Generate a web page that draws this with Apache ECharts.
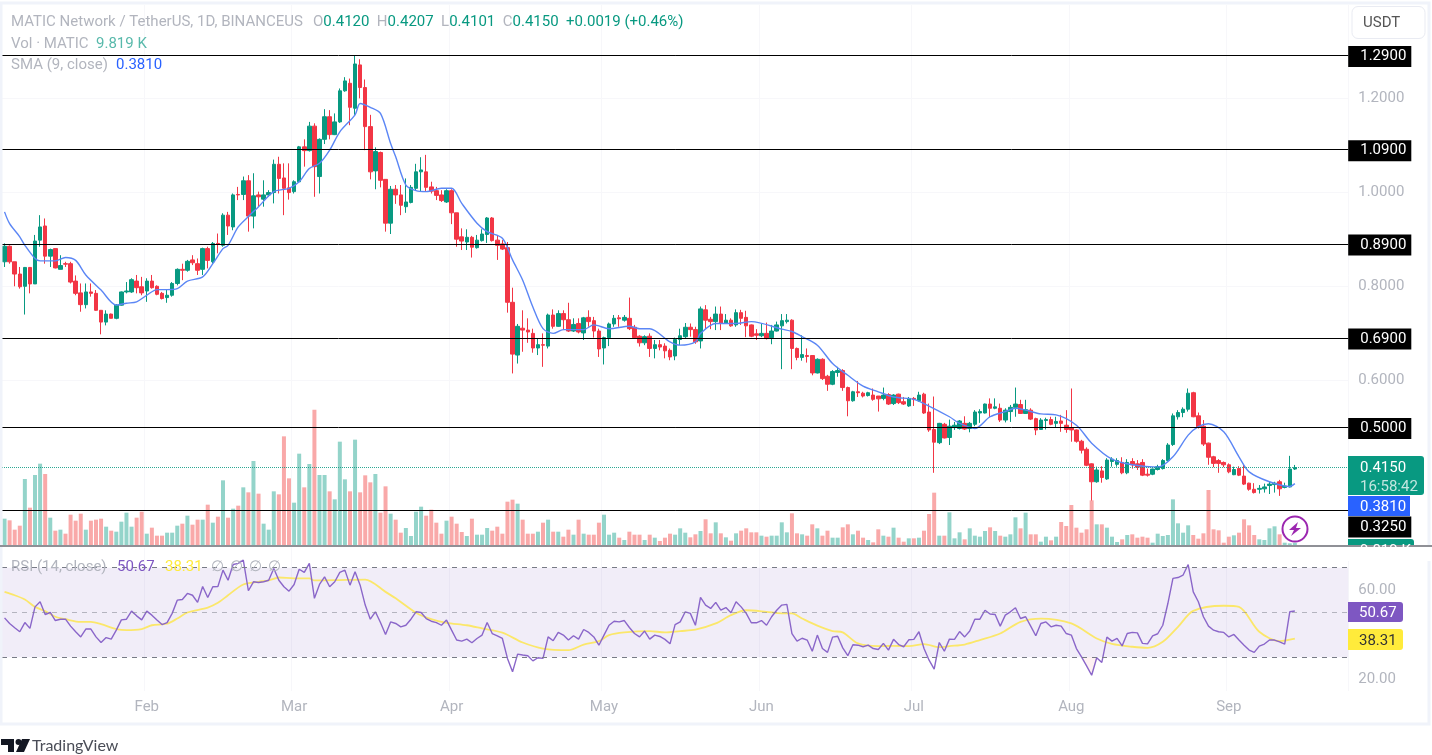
<!DOCTYPE html>
<html>
<head>
<meta charset="utf-8">
<title>MATIC / USDT</title>
<style>
  html, body { margin: 0; padding: 0; background: #fff; }
  #chart { width: 1432px; height: 755px; }
</style>
</head>
<body>
<div id="chart"></div>
<script src="https://cdn.jsdelivr.net/npm/echarts@6/dist/echarts.min.js"></script>
<script>
// daily candles (3 Jan .. 14 Sep)
const opens = [
  .852,.885,.852,.826,.800,.840,.805,.898,.928,.864,
  .880,.836,.848,.848,.811,.786,.761,.788,.785,.749,
  .724,.741,.732,.760,.788,.788,.811,.799,.790,.811,
  .800,.785,.776,.781,.806,.836,.834,.856,.848,.836,
  .880,.852,.891,.887,.951,.926,.995,.995,1.024,.949,
  .994,.985,.994,.999,1.059,1.030,1.009,1.001,1.022,1.096,
  1.088,1.140,1.033,1.112,1.160,1.122,1.149,1.215,1.231,1.178,
  1.270,1.222,1.139,1.045,1.084,1.027,.934,1.006,.994,.969,
  .978,1.008,1.043,1.043,1.011,1.003,.994,.979,1.003,.956,
  .905,.894,.904,.882,.897,.910,.945,.898,.890,.882,
  .766,.654,.711,.707,.700,.669,.676,.673,.739,.715,
  .742,.729,.705,.721,.701,.734,.727,.705,.669,.691,
  .720,.733,.728,.732,.713,.694,.680,.694,.668,.676,
  .673,.664,.652,.687,.693,.713,.708,.684,.750,.730,
  .725,.741,.722,.728,.718,.744,.734,.718,.699,.695,
  .700,.691,.705,.716,.725,.728,.668,.649,.653,.653,
  .616,.645,.609,.592,.617,.621,.585,.557,.576,.573,
  .568,.569,.567,.562,.570,.551,.571,.555,.546,.562,
  .557,.571,.533,.496,.468,.507,.479,.500,.498,.509,
  .498,.507,.531,.531,.550,.541,.541,.516,.534,.543,
  .549,.530,.537,.519,.496,.515,.517,.509,.514,.505,
  .500,.495,.471,.454,.423,.385,.408,.391,.428,.422,
  .426,.404,.428,.423,.426,.401,.401,.411,.413,.430,
  .464,.523,.532,.539,.574,.525,.503,.467,.438,.430,
  .426,.421,.400,.413,.397,.382,.369,.369,.370,.377,
  .379,.385,.373,.374,.4120
]
const closes = [
  .885,.852,.826,.799,.840,.805,.896,.926,.864,.878,
  .839,.844,.847,.809,.785,.761,.788,.785,.749,.724,
  .741,.732,.760,.788,.790,.814,.797,.786,.811,.797,
  .783,.774,.781,.806,.836,.834,.853,.850,.834,.880,
  .855,.891,.889,.951,.928,.994,.994,1.024,.949,.992,
  .990,.994,.999,1.059,1.029,1.008,.999,1.022,1.096,1.088,
  1.140,1.054,1.112,1.160,1.122,1.149,1.215,1.236,1.180,1.272,
  1.222,1.139,1.043,1.086,1.025,.934,1.006,.994,.972,.979,
  1.010,1.043,1.047,1.010,1.002,.993,.982,1.003,.956,.900,
  .896,.904,.883,.898,.911,.945,.897,.887,.879,.766,
  .656,.715,.707,.703,.669,.676,.675,.739,.715,.742,
  .729,.705,.719,.703,.733,.725,.705,.667,.691,.720,
  .732,.731,.734,.710,.691,.680,.693,.668,.676,.671,
  .663,.650,.687,.695,.713,.708,.682,.752,.728,.725,
  .741,.721,.728,.716,.744,.732,.716,.694,.696,.700,
  .689,.705,.718,.727,.728,.668,.649,.655,.651,.616,
  .645,.604,.592,.619,.621,.585,.557,.576,.574,.567,
  .574,.560,.561,.569,.550,.569,.553,.550,.562,.560,
  .569,.531,.495,.469,.509,.478,.503,.505,.514,.497,
  .509,.533,.534,.550,.541,.544,.516,.537,.543,.550,
  .530,.538,.518,.495,.516,.517,.507,.513,.509,.496,
  .495,.471,.452,.420,.385,.410,.394,.431,.433,.430,
  .404,.426,.421,.416,.399,.399,.412,.417,.430,.463,
  .525,.532,.539,.573,.523,.502,.465,.437,.424,.424,
  .421,.406,.411,.399,.380,.369,.362,.371,.374,.380,
  .382,.370,.376,.412,.4150
]
const lows = [
  .841,.848,.800,.795,.740,.785,.805,.884,.848,.841,
  .838,.836,.841,.806,.781,.746,.753,.778,.748,.698,
  .717,.732,.730,.759,.785,.786,.785,.781,.767,.795,
  .781,.772,.765,.778,.802,.813,.831,.845,.824,.824,
  .838,.848,.870,.884,.909,.919,.983,.983,.916,.923,
  .969,.969,.990,.976,.997,.951,.984,.997,1.020,1.054,
  1.086,.990,.997,1.102,1.112,1.121,1.147,1.213,1.142,1.164,
  1.199,1.089,1.027,1.006,1.010,.916,.911,.975,.951,.956,
  .976,1.004,1.001,1.001,.997,.983,.979,.977,.932,.884,
  .877,.877,.861,.880,.895,.892,.895,.856,.877,.744,
  .615,.636,.661,.680,.659,.654,.629,.668,.710,.714,
  .707,.703,.703,.700,.686,.714,.691,.650,.634,.673,
  .714,.714,.725,.707,.689,.672,.675,.650,.647,.664,
  .647,.643,.643,.675,.689,.693,.678,.668,.709,.709,
  .707,.707,.721,.714,.714,.718,.692,.692,.686,.692,
  .687,.677,.704,.624,.721,.624,.643,.642,.638,.611,
  .615,.601,.578,.590,.608,.578,.524,.555,.565,.564,
  .566,.557,.534,.558,.548,.548,.550,.548,.544,.546,
  .555,.529,.491,.404,.465,.477,.463,.495,.496,.495,
  .490,.503,.510,.530,.522,.539,.512,.511,.512,.523,
  .529,.529,.516,.484,.495,.496,.505,.500,.491,.489,
  .470,.468,.445,.418,.345,.383,.383,.389,.417,.417,
  .401,.401,.413,.410,.397,.396,.399,.409,.411,.428,
  .461,.517,.522,.534,.522,.498,.461,.421,.416,.404,
  .416,.403,.399,.397,.378,.366,.360,.360,.362,.359,
  .362,.355,.371,.373,.4101
]
const highs = [
  .891,.887,.852,.841,.841,.841,.909,.951,.944,.880,
  .880,.866,.852,.852,.823,.806,.806,.806,.792,.749,
  .749,.742,.762,.789,.809,.817,.824,.820,.817,.824,
  .802,.788,.792,.809,.838,.848,.856,.866,.859,.882,
  .884,.894,.912,.955,.958,.997,1.011,1.033,1.036,1.040,
  1.001,1.025,1.004,1.069,1.075,1.061,1.061,1.025,1.098,1.112,
  1.149,1.146,1.114,1.176,1.174,1.167,1.220,1.244,1.241,1.289,
  1.282,1.239,1.164,1.095,1.086,1.027,1.013,1.015,1.015,1.029,
  1.015,1.060,1.074,1.079,1.022,1.011,1.004,1.006,1.006,.956,
  .923,.921,.907,.909,.921,.947,.947,.909,.898,.894,
  .797,.720,.749,.732,.710,.689,.700,.742,.751,.749,
  .749,.765,.732,.732,.735,.749,.735,.710,.693,.723,
  .739,.739,.739,.776,.718,.696,.696,.700,.686,.686,
  .679,.668,.691,.710,.722,.721,.714,.757,.760,.735,
  .757,.757,.741,.732,.751,.750,.748,.719,.709,.721,
  .723,.718,.725,.741,.741,.730,.670,.696,.668,.654,
  .647,.647,.612,.622,.629,.624,.587,.578,.599,.576,
  .576,.583,.567,.585,.573,.571,.572,.565,.565,.565,
  .576,.574,.551,.566,.510,.510,.517,.512,.516,.524,
  .512,.537,.539,.551,.562,.562,.551,.541,.548,.585,
  .559,.559,.541,.521,.520,.521,.523,.523,.527,.537,
  .583,.496,.474,.458,.424,.417,.418,.435,.437,.435,
  .437,.433,.435,.431,.433,.413,.413,.421,.433,.467,
  .530,.537,.543,.583,.576,.532,.516,.468,.440,.433,
  .428,.424,.417,.418,.421,.383,.382,.378,.381,.385,
  .385,.389,.383,.440,.4207
]
// volume in thousands
const volumes = [
  82,77,49,61,201,115,213,247,216,85,46,49,37,94,76,97,49,76,79,82,
  58,46,43,73,100,58,85,103,37,55,31,31,40,40,61,67,91,64,79,79,
  124,70,88,197,85,112,121,176,161,255,157,67,49,164,155,329,203,130,277,176,
  246,409,213,213,164,140,313,200,164,319,161,212,191,216,100,179,97,79,40,
  54,30,103,118,91,109,70,37,76,88,67,42,30,82,34,34,54,46,58,37,
  133,139,127,79,37,37,43,70,79,43,43,28,49,34,79,37,34,34,70,94,
  34,40,25,18,43,34,34,18,34,25,15,25,37,34,
  53,40,26,35,45,80,38,71,38,26,16,38,46,53,41,41,31,28,31,31,
  71,41,98,38,35,31,65,53,31,46,25,25,56,65,35,46,25,18,11,50,
  31,28,55,25,13,23,23,25,46,96,160,31,31,101,23,41,20,53,31,28,
  45,56,45,31,28,35,86,
  53,100,35,35,13,28,17,28,72,60,123,55,40,50,137,65,65,55,28,12,
  20,33,35,25,28,25,10,37,30,33,140,68,40,62,33,22,38,168,50,47,
  10,28,32,40,80,62,33,20,18,53,59,35,10,8,9.819
]
const rsi = [
  47.6,45.1,43.2,41.4,45.5,42.9,52.5,54.8,49.1,50.0,
  46.4,47.0,47.0,43.9,41.4,39.1,42.6,42.6,39.1,36.6,
  38.8,38.1,42.1,46.7,47.0,50.6,48.5,46.7,50.6,48.8,
  46.6,44.6,45.5,49.6,55.5,55.8,58.5,57.7,54.5,61.6,
  56.7,61.5,61.6,68.9,64.4,71.4,71.9,73.4,59.7,63.7,
  63.4,63.7,64.4,69.6,64.4,61.5,59.5,62.5,69.3,67.9,
  71.9,56.3,62.5,65.9,61.5,63.7,67.9,68.9,62.2,68.2,
  62.2,53.3,47.0,50.3,45.5,40.2,45.8,45.1,43.6,44.3,
  47.0,50.3,50.0,47.3,46.1,45.5,44.3,46.6,42.1,37.7,
  37.2,38.1,36.5,38.4,
  39.9,45.5,40.6,39.6,38.4,29.5,23.5,31.4,31.0,30.7,
  28.4,29.8,29.5,39.1,37.4,41.1,39.9,37.7,39.6,38.1,
  42.4,41.1,39.1,35.4,39.9,44.3,46.1,45.8,46.4,43.3,
  40.6,39.1,41.7,38.1,39.9,39.3,38.0,36.0,44.6,45.8,
  50.3,49.6,44.3,56.7,53.3,51.8,54.5,51.0,52.2,49.9,
  54.8,52.5,49.6,45.4,45.4,46.4,44.3,48.1,51.0,53.3,
  53.6,40.6,37.2,38.5,37.7,32.7,39.9,33.9,32.2,39.0,
  39.4,34.2,30.7,35.6,35.4,34.7,35.4,33.9,33.5,36.2,
  33.2,38.0,35.7,34.7,37.8,38.0,41.4,33.9,28.7,24.7,
  36.6,32.7,38.1,38.0,41.5,39.1,41.7,47.0,47.0,
  51.0,49.3,49.1,43.9,48.8,50.3,52.1,47.3,48.1,43.9,
  39.6,45.1,45.8,43.6,44.3,43.9,40.6,39.9,33.9,30.2,
  26.2,22.0,29.8,27.7,39.0,37.2,38.4,35.1,40.6,41.1,
  40.9,36.2,36.0,39.6,40.5,44.3,54.0,65.2,65.6,66.7,
  71.4,59.2,54.8,48.1,43.9,42.1,41.4,41.1,39.1,40.2,
  37.7,35.4,33.2,32.2,35.0,35.9,37.7,37.7,36.9,35.9,
  50.3,50.67
]
// the two smooth lines, read at the candles where they bend
const smaDays = [
  0,1,3,4,6,7,10,12,14,16,19,22,24,26,28,30,32,34,36,39,41,43,44,46,48,50,53,56,58,60,62,64,66,69,
  70,72,74,76,77,79,81,83,86,88,90,93,95,98,100,102,104,106,108,110,114,116,119,123,125,127,131,133,136,
  137,140,144,147,153,155,157,160,163,166,169,172,175,179,181,186,188,191,194,197,199,
  201,204,207,211,214,218,222,227,230,233,235,237,240,243,245,249,253,254
]
const smaValues = [
  .958,.933,.905,.887,.859,.854,.854,.861,.855,.824,.792,.760,.764,.767,.781,.793,.793,.795,.811,.820,.848,.880,.887,.926,.948,.969,1.001,1.008,1.022,1.050,1.061,1.089,1.128,1.164,
  1.188,1.180,1.167,1.103,1.075,1.015,1.003,1.001,1.008,1.008,.976,.934,.916,.902,.856,.813,.756,.710,.700,.708,.708,.718,.710,.715,.710,.710,.682,.675,.682,
  .700,.721,.721,.725,.709,.704,.693,.675,.636,.611,.588,.576,.565,.560,.551,.523,.509,.498,.523,.534,.541,
  .537,.529,.527,.505,.467,.433,.421,.416,.438,.484,.502,.508,.491,.438,.406,.385,.375,.381
]
const rsiMaDays = [
  0,2,4,6,8,10,12,15,17,19,22,24,27,29,32,34,36,40,42,44,47,50,52,54,57,60,61,65,71,75,77,81,84,87,91,
  94,98,102,106,111,114,117,119,122,127,130,133,136,140,143,146,150,153,155,157,160,163,165,168,172,175,178,181,184,186,189,192,
  196,200,204,210,215,218,222,225,228,231,234,240,243,247,251,254
]
const rsiMaValues = [
  59.2,57.7,55.8,52.5,50.6,48.1,47.0,45.8,45.8,44.8,42.6,42.1,42.6,44.3,45.0,47.3,50.0,52.2,54.3,57.7,62.5,63.7,64.3,65.6,65.2,65.2,64.3,64.4,64.7,59.2,56.3,49.9,47.0,45.4,44.3,
  42.9,41.0,36.6,33.9,33.2,35.7,37.2,39.9,41.1,41.7,41.1,41.7,42.3,45.1,48.8,51.0,50.3,49.6,49.6,47.3,44.1,41.7,41.1,36.2,35.0,35.1,35.0,35.9,34.5,35.0,35.7,37.7,
  40.6,45.8,47.3,45.1,38.4,36.0,34.7,34.2,36.9,43.6,50.7,53.0,52.5,41.4,37.2,38.31
]
// the dip below the lower band in August
const oversoldDays = [212, 213, 214, 215]
const oversoldValues = [30, 26.2, 22.0, 29.8]
const levels = [1.29, 1.09, 0.89, 0.69, 0.5, 0.325]
const lastPrice = 0.415
const priceTicks = [1.2, 1.0, 0.8, 0.6]
const rsiTicks = [20, 60]
const rsiBands = [70, 50, 30]
const monthLabels = ['Feb', 'Mar', 'Apr', 'May', 'Jun', 'Jul', 'Aug', 'Sep']
const monthDays = [28, 57, 88, 118, 149, 179, 210, 241]

const UP = '#089981'
const DOWN = '#f23645'
const GREY = '#b2b5be'
const FONT = 'Roboto, sans-serif'
const SIZE = 15

// ten empty days stay free on the right side of the chart
const dayCount = 265
const categories = []
for (let i = 0; i < dayCount; i++) {
  const d = new Date(2023, 0, 3 + i)
  categories.push((d.getMonth() + 1) + '/' + d.getDate())
}
const candles = opens.map((o, i) => [o, closes[i], lows[i], highs[i]])
const volumeData = volumes.map((v, i) => ({
  value: v,
  itemStyle: { color: closes[i] >= opens[i] ? '#94d4ca' : '#f9a9a9' }
}))

function label (x, y, text, fill, size, extra) {
  return {
    type: 'text',
    z: 100,
    silent: true,
    style: Object.assign({
      x: x,
      y: y + 2.5,
      text: text,
      fill: fill,
      font: (size || SIZE) + 'px ' + FONT,
      textVerticalAlign: 'middle'
    }, extra)
  }
}
function box (x, y, w, h, fill, r) {
  return {
    type: 'rect',
    z: 99,
    silent: true,
    shape: { x: x, y: y, width: w, height: h, r: r || 0 },
    style: { fill: fill }
  }
}
function poly (points, fill, z) {
  return { type: 'polygon', z: z || 100, silent: true, shape: { points: points }, style: { fill: fill } }
}

const legendRich = {
  g: { fill: GREY, font: SIZE + 'px ' + FONT },
  v: { fill: UP, font: SIZE + 'px ' + FONT }
}
const graphics = [
  // frame around the chart
  { type: 'rect', z: 90, silent: true, shape: { x: 1, y: 3, width: 1428, height: 721 }, style: { fill: 'none', stroke: '#f0f3fa', lineWidth: 3 } },

  // legends
  label(11, 19.5, 'MATIC Network / TetherUS, 1D, BINANCEUS', GREY),
  label(313, 19.5, '{g|O}{v|0.4120}  {g|H}{v|0.4207}  {g|L}{v|0.4101}  {g|C}{v|0.4150}  {v|+0.0019 (+0.46%)}', UP, SIZE, { rich: legendRich }),
  label(11, 41.5, 'Vol · MATIC', GREY),
  label(96, 41.5, '9.819 K', '#58b9ab'),
  label(11, 62.5, 'SMA (9, close)', GREY),
  label(116, 62.5, '0.3810', '#2962ff'),
  label(11, 565, 'RSI (14, close)', GREY),
  label(117, 565, '50.67', '#7e57c2'),
  label(165, 565, '38.31', '#ffeb3b'),
  label(211, 565, '∅', GREY),
  label(230, 565, '∅', GREY),
  label(249, 565, '∅', GREY),
  label(268, 565, '∅', GREY),

  // currency button
  { type: 'rect', z: 100, silent: true, shape: { x: 1352, y: 6.5, width: 73, height: 32, r: 6 }, style: { fill: '#fff', stroke: '#e9ebf2', lineWidth: 1 } },
  label(1363, 20.5, 'USDT', '#555'),

  // right scale boxes
  box(1348, 456, 76, 39, UP, [0, 3, 3, 0]),
  label(1360, 465.5, '0.4150', '#fff'),
  label(1360, 484.5, '16:58:42', '#c3e6e0'),
  box(1348, 496, 62, 20, '#2962ff'),
  label(1360, 504.5, '0.3810', '#fff'),
  box(1348, 539, 66, 20, UP, [0, 3, 3, 0]),
  label(1360, 549, '9.819 K', '#fff'),
  box(1348, 547, 84, 14, '#fff'),
  box(1348, 602, 55, 20, '#7e57c2', [0, 3, 3, 0]),
  label(1359, 610.5, '50.67', '#fff'),
  box(1348, 629, 55, 21, '#ffeb3b', [0, 3, 3, 0]),
  label(1359, 638.5, '38.31', '#333'),

  // pane divider
  { type: 'rect', z: 99, silent: true, shape: { x: 0, y: 545, width: 1432, height: 2 }, style: { fill: '#8f9096' } },

  // the round purple badge
  { type: 'circle', z: 100, silent: true, shape: { cx: 1295, cy: 529, r: 12.5 }, style: { fill: 'rgba(255,255,255,0.7)', stroke: '#9c27b0', lineWidth: 2 } },
  poly([[1298, 522], [1289, 530], [1294, 530], [1291, 536], [1301, 528], [1296, 528]], '#9c27b0'),

  // brand mark
  poly([[1, 739], [14, 739], [14, 752], [8, 752], [8, 745], [1, 745]], '#131722'),
  { type: 'circle', z: 100, silent: true, shape: { cx: 18.5, cy: 742, r: 3 }, style: { fill: '#131722' } },
  poly([[22, 739], [30, 739], [24, 752], [16, 752]], '#131722'),
  label(32, 743.5, 'TradingView', '#4a4d57', 16, { font: '16px Lato, sans-serif' })
]

const chartInstance = echarts.init(document.getElementById('chart'), null, { renderer: 'canvas' })
const levelItems = levels.map((v, i) => ({
  yAxis: v,
  lineStyle: { color: '#000', width: 1, type: 'solid' },
  label: {
    show: true,
    position: 'end',
    distance: 0,
    formatter: v.toFixed(4),
    color: '#fff',
    backgroundColor: '#000',
    padding: [4, 5, 2, 12],
    fontFamily: FONT,
    fontSize: SIZE,
    // the last box is pushed down by the boxes above it
    offset: i === levels.length - 1 ? [0, 17] : [0, 1]
  }
}))
const priceLine = {
  yAxis: lastPrice,
  lineStyle: { color: UP, width: 1, type: 'dotted', opacity: 0.85 },
  label: { show: false }
}
const splitX = {
  show: true,
  interval: (index) => monthDays.indexOf(index) >= 0,
  lineStyle: { color: '#f7f7fa', width: 1 }
}
const gridLeft = 2
const gridWidth = 1346.2

const option = {
  animation: false,
  backgroundColor: '#fff',
  graphic: graphics,
  grid: [
    { left: gridLeft, width: gridWidth, top: 5, height: 541 },
    { left: gridLeft, width: gridWidth, top: 400, height: 146 },
    { left: gridLeft, width: gridWidth, top: 547.5, height: 143.4 }
  ],
  xAxis: [0, 1, 2].map((g) => ({
    type: 'category',
    gridIndex: g,
    data: categories,
    boundaryGap: true,
    axisLine: { show: false },
    axisTick: { show: false },
    splitLine: g === 1 ? { show: false } : splitX,
    axisLabel: g === 2 ? {
      show: true,
      margin: 8,
      padding: [1, 0, 0, 0],
      interval: (index) => monthDays.indexOf(index) >= 0,
      formatter: (value, index) => monthLabels[monthDays.indexOf(index)],
      color: GREY,
      fontFamily: FONT,
      fontSize: SIZE
    } : { show: false }
  })),
  yAxis: [
    {
      type: 'value',
      gridIndex: 0,
      position: 'right',
      min: 0.2486,
      max: 1.3972,
      axisLine: { show: false },
      axisTick: { show: false, customValues: priceTicks },
      splitLine: { show: true, lineStyle: { color: '#f7f7fa' } },
      axisLabel: {
        customValues: priceTicks,
        formatter: (v) => v.toFixed(4),
        color: GREY,
        margin: 10,
        padding: [7, 0, 0, 0],
        fontFamily: FONT,
        fontSize: SIZE
      }
    },
    {
      type: 'value',
      gridIndex: 1,
      min: 0,
      max: 438,
      show: false
    },
    {
      type: 'value',
      gridIndex: 2,
      position: 'right',
      min: 15,
      max: 79,
      axisLine: { show: false },
      axisTick: { show: false, customValues: rsiTicks },
      splitLine: { show: false },
      axisLabel: {
        customValues: rsiTicks,
        formatter: (v) => v.toFixed(2),
        color: GREY,
        margin: 10,
        padding: [7, 0, 0, 0],
        fontFamily: FONT,
        fontSize: SIZE
      }
    }
  ],
  series: [
    {
      name: 'Vol',
      type: 'bar',
      xAxisIndex: 1,
      yAxisIndex: 1,
      z: 1,
      barWidth: 4,
      data: volumeData
    },
    {
      // horizontal levels stay behind the candles
      name: 'Levels',
      type: 'line',
      xAxisIndex: 0,
      yAxisIndex: 0,
      z: 2,
      data: [],
      markLine: {
        silent: true,
        symbol: 'none',
        animation: false,
        precision: 4,
        data: levelItems.concat([priceLine])
      }
    },
    {
      name: 'MATIC',
      type: 'candlestick',
      xAxisIndex: 0,
      yAxisIndex: 0,
      z: 3,
      barWidth: 4,
      itemStyle: {
        color: UP,
        color0: DOWN,
        borderColor: UP,
        borderColor0: DOWN,
        borderWidth: 1
      },
      data: candles
    },
    {
      name: 'SMA',
      type: 'line',
      xAxisIndex: 0,
      yAxisIndex: 0,
      z: 4,
      smooth: 0.3,
      showSymbol: false,
      lineStyle: { color: '#5b86f5', width: 1.4 },
      data: smaDays.map((d, i) => [d, smaValues[i]])
    },
    {
      name: 'RSI bands',
      type: 'line',
      xAxisIndex: 2,
      yAxisIndex: 2,
      z: 2,
      data: [],
      markArea: {
        silent: true,
        itemStyle: { color: 'rgba(126,87,194,0.11)' },
        data: [[{ yAxis: rsiBands[0] }, { yAxis: rsiBands[2] }]]
      },
      markLine: {
        silent: true,
        symbol: 'none',
        animation: false,
        label: { show: false },
        data: rsiBands.map((v) => ({
          yAxis: v,
          lineStyle: {
            color: '#787b86',
            width: 1,
            type: [5, 5],
            opacity: v === 50 ? 0.5 : 1
          }
        }))
      }
    },
    {
      name: 'Oversold',
      type: 'line',
      xAxisIndex: 2,
      yAxisIndex: 2,
      z: 2,
      showSymbol: false,
      lineStyle: { width: 0 },
      areaStyle: { origin: 30, color: 'rgba(242,54,69,0.1)' },
      data: oversoldDays.map((d, i) => [d, oversoldValues[i]])
    },
    {
      name: 'RSI MA',
      type: 'line',
      xAxisIndex: 2,
      yAxisIndex: 2,
      z: 3,
      smooth: 0.3,
      showSymbol: false,
      lineStyle: { color: '#fbe76a', width: 1.8 },
      data: rsiMaDays.map((d, i) => [d, rsiMaValues[i]])
    },
    {
      name: 'RSI',
      type: 'line',
      xAxisIndex: 2,
      yAxisIndex: 2,
      z: 4,
      showSymbol: false,
      lineStyle: { color: '#8a66c9', width: 1.4 },
      data: rsi
    }
  ]
}
chartInstance.setOption(option)
</script>
</body>
</html>
